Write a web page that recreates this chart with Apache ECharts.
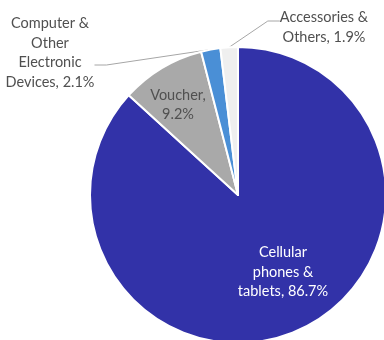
<!DOCTYPE html>
<html>
<head>
<meta charset="utf-8">
<script src="https://cdn.jsdelivr.net/npm/echarts@6/dist/echarts.min.js"></script>
<style>
  html, body { margin: 0; padding: 0; background: #ffffff; }
  #chart { width: 384px; height: 340px; }
</style>
</head>
<body>
<div id="chart"></div>
<script>
// Revenue share by product segment (clockwise from 12 o'clock)
const categories = [
  'Cellular\nphones &\ntablets',
  'Voucher',
  'Computer &\nOther\nElectronic\nDevices',
  'Accessories &\nOthers'
];
const shares = [86.7, 9.2, 2.1, 1.9];
const sliceColors = ['#3232a8', '#a9a9a9', '#4a8fd6', '#efefef'];

// label anchor points (px); padding shifts where the leader line meets the text box
const labelSpots = [
  { x: 283, y: 272, color: '#ffffff', pos: 'inside', pad: 0 },
  { x: 178, y: 105, color: '#505050', pos: 'inside', pad: 0 },
  { x: 50, y: 65, color: '#505050', pos: 'outside', pad: [0, 0, 24, 0] },
  { x: 324, y: 21, color: '#505050', pos: 'outside', pad: [13, 0, 0, 0] }
];

const chart = echarts.init(document.getElementById('chart'), null, { renderer: 'canvas' });

const data = categories.map((name, i) => ({
  name: name,
  value: shares[i],
  itemStyle: { color: sliceColors[i] },
  label: {
    position: labelSpots[i].pos,
    padding: labelSpots[i].pad,
    color: labelSpots[i].color,
    formatter: function (p) {
      const text = p.dataIndex === 1 ? p.name + ',\n' + p.value + '%' : p.name + ', ' + p.value + '%';
      return text.split('\n').map(function (t) { return '{t|' + t + '}'; }).join('\n');
    },
    rich: { t: { color: labelSpots[i].color, align: 'center' } }
  },
  labelLine: { show: labelSpots[i].pos === 'outside' }
}));

chart.setOption({
  animation: false,
  series: [{
    type: 'pie',
    center: [238, 195],
    radius: [0, 148],
    startAngle: 90,
    clockwise: true,
    data: data,
    itemStyle: { borderColor: '#ffffff', borderWidth: 2 },
    label: {
      show: true,
      fontFamily: 'Lato, "Open Sans", sans-serif',
      fontSize: 14.5,
      lineHeight: 19.5,
      align: 'center',
      overflow: 'none',
      rich: {}
    },
    labelLine: {
      length: 8,
      length2: 12,
      lineStyle: { color: '#a6a6a6', width: 1 }
    },
    labelLayout: function (params) {
      const spot = labelSpots[params.dataIndex];
      return { x: spot.x, y: spot.y, align: 'center', verticalAlign: 'middle' };
    }
  }]
});
</script>
</body>
</html>
